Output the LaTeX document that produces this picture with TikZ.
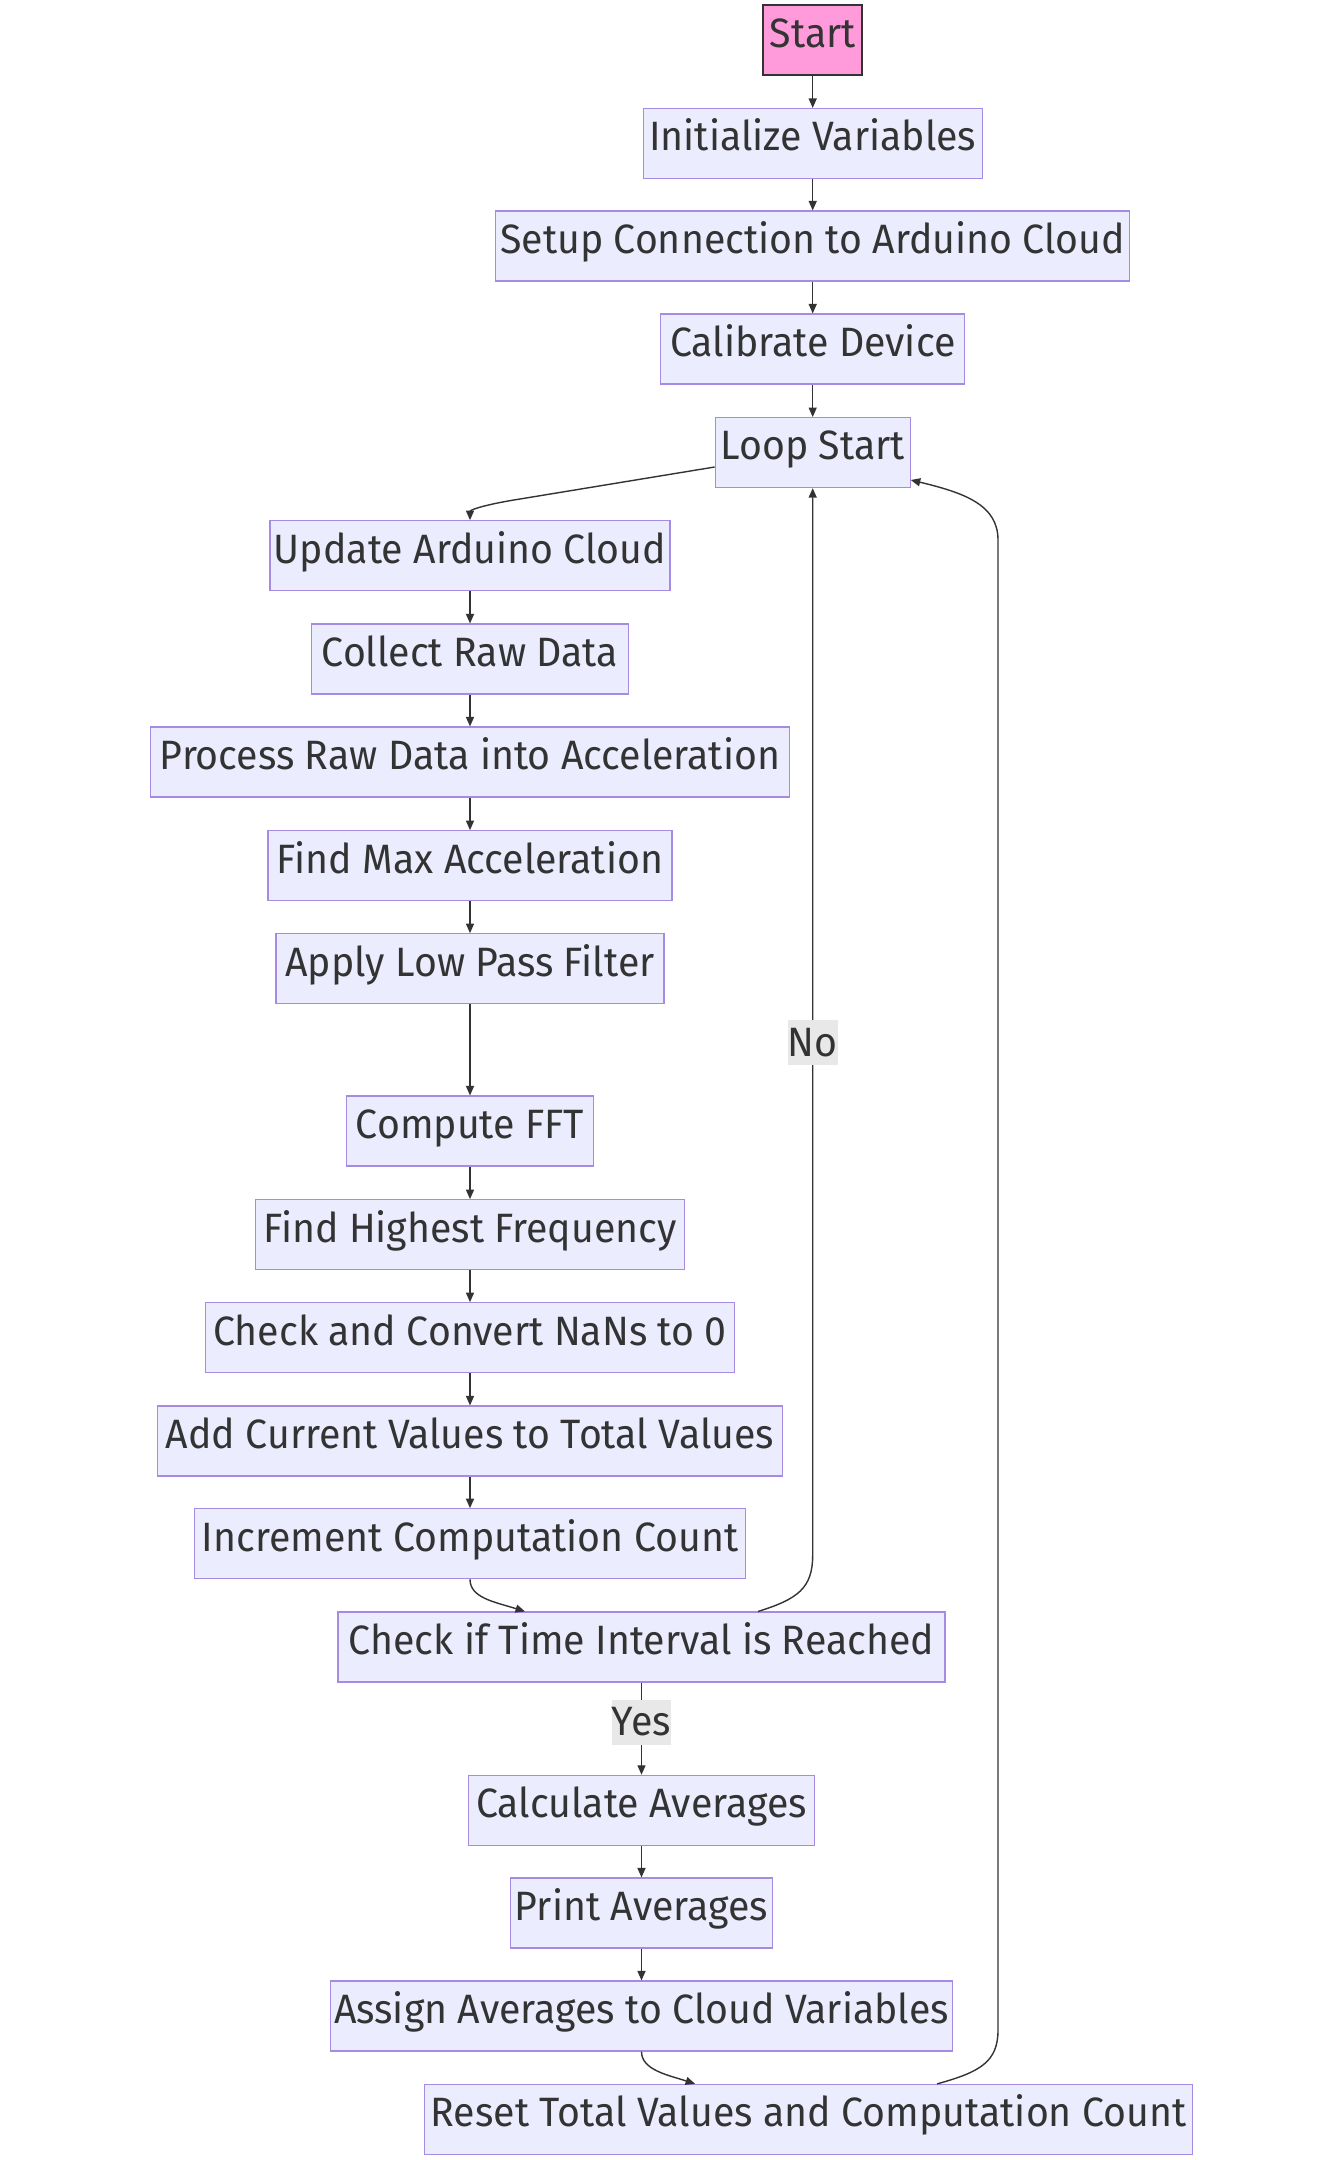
\documentclass[tikz,border=0pt]{standalone}
\usepackage{fontspec}
\setmainfont{Fira Sans}[FakeStretch=0.958]
\usetikzlibrary{arrows.meta,calc}
\definecolor{boxfill}{HTML}{ECECFF}
\definecolor{boxline}{HTML}{A58BE3}
\definecolor{ink}{HTML}{333333}
\definecolor{startfill}{HTML}{FF9ADB}
\definecolor{lblfill}{HTML}{E8E8E8}
\begin{document}
\begin{tikzpicture}[x=1pt,y=-1pt,
  txt/.style={text=ink, font=\fontsize{41pt}{41pt}\selectfont},
  stepbox/.style={txt, draw=boxline, line width=1.1pt, fill=boxfill, minimum height=70pt,
    inner sep=0pt, text height=28pt, text depth=13.4pt},
  startbox/.style={stepbox, fill=startfill, draw=ink, line width=1.8pt},
  flow/.style={draw=ink, line width=1.4pt, -{Triangle[length=9.5pt,width=8pt]}},
  lbl/.style={txt, fill=lblfill, inner sep=0pt, minimum height=45pt, text height=28pt, text depth=1.4pt}
]
\useasboundingbox (0,0) rectangle (1343,2160);
\fill[white] (0,0) rectangle (1343,2160);

\node[startbox, minimum width=98.7pt] (start) at (812.7,40) {Start};
\node[stepbox, minimum width=339pt] (init) at (812.7,143.5) {Initialize Variables};
\node[stepbox, minimum width=634pt] (setup) at (812.7,246) {Setup Connection to Arduino Cloud};
\node[stepbox, minimum width=304pt] (calib) at (812.7,349) {Calibrate Device};
\node[stepbox, minimum width=195pt] (loop) at (812.7,452.6) {Loop Start};
\node[stepbox, minimum width=400pt] (update) at (470,555.7) {Update Arduino Cloud};
\node[stepbox, minimum width=317pt] (collect) at (470,659) {Collect Raw Data};
\node[stepbox, minimum width=639.5pt] (process) at (470,762) {Process Raw Data into Acceleration};
\node[stepbox, minimum width=404pt] (maxacc) at (470,865.7) {Find Max Acceleration};
\node[stepbox, minimum width=388pt] (lpf) at (470,968.7) {Apply Low Pass Filter};
\node[stepbox, minimum width=246.7pt] (fft) at (470,1131) {Compute FFT};
\node[stepbox, minimum width=428.8pt] (highf) at (470,1234.7) {Find Highest Frequency};
\node[stepbox, minimum width=528.7pt] (nans) at (470,1337.7) {Check and Convert NaNs to 0};
\node[stepbox, minimum width=625pt] (addv) at (470,1441) {Add Current Values to Total Values};
\node[stepbox, minimum width=551pt] (incr) at (470,1543.7) {Increment Computation Count};
\node[stepbox, minimum width=607pt] (check) at (641.5,1647) {Check if Time Interval is Reached};
\node[stepbox, minimum width=346pt] (calc) at (641.5,1810.3) {Calculate Averages};
\node[stepbox, minimum width=262pt] (print) at (641.5,1913) {Print Averages};
\node[stepbox, minimum width=622pt] (assign) at (641.5,2016) {Assign Averages to Cloud Variables};
\node[stepbox, minimum width=767.7pt] (reset) at (808.6,2119.4) {Reset Total Values and Computation Count};

\draw[flow] (start) -- (init);
\draw[flow] (init) -- (setup);
\draw[flow] (setup) -- (calib);
\draw[flow] (calib) -- (loop);
\draw[flow] ($(loop.west)+(0,14.4)$) -- (520,499) .. controls (476,506) and (470,511) .. (update.north);
\draw[flow] (update) -- (collect);
\draw[flow] (collect) -- (process);
\draw[flow] (process) -- (maxacc);
\draw[flow] (maxacc) -- (lpf);
\draw[flow] (lpf) -- (fft);
\draw[flow] (fft) -- (highf);
\draw[flow] (highf) -- (nans);
\draw[flow] (nans) -- (addv);
\draw[flow] (addv) -- (incr);
\draw[flow] (incr.south) .. controls (470,1598) and (495,1602) .. ($(check.north)+(-116.5,0)$);
\draw[flow] ($(check.north)+(116.5,0)$) .. controls (798,1599) and (812.7,1588) .. (812.7,1555)
  -- node[lbl, pos=0.48, minimum width=46.6pt] {No} (loop.south);
\draw[flow] (check) -- node[lbl, pos=0.43, minimum width=57pt] {Yes} (calc);
\draw[flow] (calc) -- (print);
\draw[flow] (print) -- (assign);
\draw[flow] (assign.south) .. controls (641.5,2070) and (668,2075) .. ($(reset.north)+(-113.5,0)$);
\draw[flow] ($(reset.north)+(128.5,0)$) .. controls (980,2072) and (998,2062) .. (998,2030)
  -- (998,540) .. controls (998,505) and (965,493) .. ($(loop.east)+(0,27.4)$);
\end{tikzpicture}
\end{document}
